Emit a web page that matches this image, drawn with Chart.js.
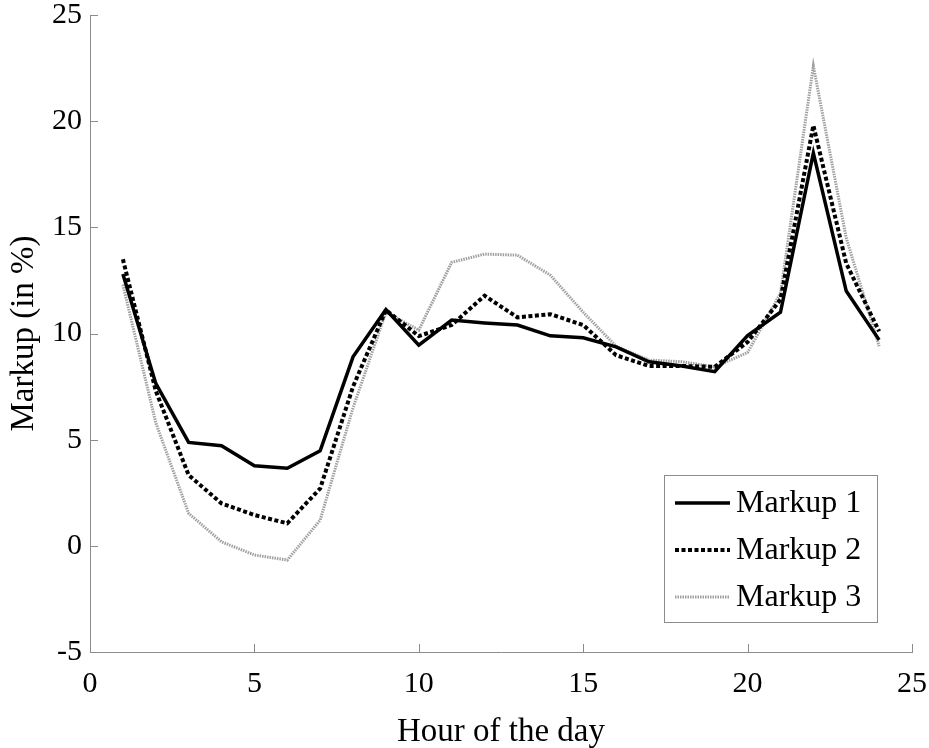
<!DOCTYPE html>
<html>
<head>
<meta charset="utf-8">
<script src="https://cdn.jsdelivr.net/npm/chart.js@4.4.1/dist/chart.umd.min.js"></script>
<style>
  html, body { margin: 0; padding: 0; background: #fff; }
  #wrap { width: 929px; height: 748px; }
</style>
</head>
<body>
<div id="wrap"><canvas id="chart"></canvas></div>
<script>
const hours = [1, 2, 3, 4, 5, 6, 7, 8, 9, 10, 11, 12, 13, 14, 15, 16, 17, 18, 19, 20, 21, 22, 23, 24];
const markup1 = [12.8, 7.65, 4.87, 4.71, 3.77, 3.65, 4.48, 8.9, 11.13, 9.45, 10.63, 10.5, 10.4, 9.89, 9.8, 9.37, 8.67, 8.47, 8.2, 9.9, 11.0, 18.5, 12.0, 9.7];
const markup2 = [13.5, 7.3, 3.33, 2.0, 1.45, 1.06, 2.7, 7.5, 11.1, 9.88, 10.4, 11.78, 10.76, 10.91, 10.4, 8.98, 8.47, 8.47, 8.43, 9.6, 11.6, 19.8, 13.3, 10.1];
const markup3 = [12.3, 5.8, 1.53, 0.19, -0.43, -0.67, 1.21, 6.5, 11.0, 10.16, 13.35, 13.74, 13.69, 12.75, 11.0, 9.4, 8.75, 8.67, 8.43, 9.1, 11.9, 22.6, 14.5, 9.4];
const seriesNames = ["Markup 1", "Markup 2", "Markup 3"];
const xTicks = [0, 5, 10, 15, 20, 25];
const yTicks = [-5, 0, 5, 10, 15, 20, 25];

const FONT = "'Liberation Serif', 'Times New Roman', serif";
const axisGray = "#8c8c8c";

const toPoints = (vals) => vals.map((v, i) => ({ x: hours[i], y: v }));

// ticks pointing into the plot, MATLAB style
const innerTicks = {
  id: "innerTicks",
  afterDraw(chart) {
    const { ctx, chartArea, scales } = chart;
    ctx.save();
    ctx.strokeStyle = axisGray;
    ctx.lineWidth = 1;
    xTicks.forEach((t) => {
      const px = Math.round(scales.x.getPixelForValue(t)) + 0.5;
      ctx.beginPath();
      ctx.moveTo(px, chartArea.bottom);
      ctx.lineTo(px, chartArea.bottom - 8);
      ctx.stroke();
    });
    yTicks.forEach((t) => {
      const py = Math.round(scales.y.getPixelForValue(t)) + 0.5;
      ctx.beginPath();
      ctx.moveTo(chartArea.left, py);
      ctx.lineTo(chartArea.left + 8, py);
      ctx.stroke();
    });
    ctx.restore();
  },
};

// boxed legend in the lower right of the plot
const boxLegend = {
  id: "boxLegend",
  afterDraw(chart) {
    const { ctx } = chart;
    const box = { x: 664.5, y: 475.5, w: 213, h: 147 };
    ctx.save();
    ctx.fillStyle = "#fff";
    ctx.fillRect(box.x, box.y, box.w, box.h);
    ctx.strokeStyle = axisGray;
    ctx.lineWidth = 1;
    ctx.strokeRect(box.x, box.y, box.w, box.h);
    const rows = [503, 550, 597];
    chart.data.datasets.forEach((ds, i) => {
      ctx.beginPath();
      ctx.strokeStyle = ds.borderColor;
      ctx.lineWidth = ds.borderWidth;
      ctx.setLineDash(ds.borderDash || []);
      ctx.moveTo(675, rows[i]);
      ctx.lineTo(730, rows[i]);
      ctx.stroke();
      ctx.setLineDash([]);
      ctx.fillStyle = "#000";
      ctx.font = "32px " + FONT;
      ctx.textBaseline = "middle";
      ctx.fillText(ds.label, 736, rows[i] + 1);
    });
    ctx.restore();
  },
};

const data = {
  datasets: [
    {
      label: seriesNames[0],
      data: toPoints(markup1),
      borderColor: "#000",
      borderWidth: 3.5,
      pointRadius: 0,
      order: 1,
    },
    {
      label: seriesNames[1],
      data: toPoints(markup2),
      borderColor: "#000",
      borderWidth: 4,
      borderDash: [4, 2.5],
      pointRadius: 0,
      order: 2,
    },
    {
      label: seriesNames[2],
      data: toPoints(markup3),
      borderColor: "#a0a0a0",
      borderWidth: 3,
      borderDash: [1.5, 1],
      pointRadius: 0,
      order: 3,
    },
  ],
};

const config = {
  type: "line",
  data,
  options: {
    responsive: true,
    maintainAspectRatio: false,
    animation: false,
    layout: { padding: { top: 15, right: 17, left: 0, bottom: 0 } },
    plugins: {
      legend: { display: false },
      tooltip: { enabled: false },
    },
    scales: {
      x: {
        type: "linear",
        min: 0,
        max: 25,
        afterBuildTicks: (s) => { s.ticks = xTicks.map((v) => ({ value: v })); },
        afterFit: (s) => { s.height = 96; s.paddingLeft = 0; s.paddingRight = 0; },
        grid: { display: false, drawTicks: false },
        border: { display: true, color: axisGray, width: 1 },
        ticks: { color: "#000", padding: 14, font: { family: FONT, size: 30 } },
        title: {
          display: true,
          text: "Hour of the day",
          color: "#000",
          padding: { top: 0, bottom: -4 },
          font: { family: FONT, size: 33 },
        },
      },
      y: {
        min: -5,
        max: 25,
        afterBuildTicks: (s) => { s.ticks = yTicks.map((v) => ({ value: v })); },
        afterFit: (s) => { s.width = 90; s.paddingTop = 0; s.paddingBottom = 0; },
        grid: { display: false, drawTicks: false },
        border: { display: true, color: axisGray, width: 1 },
        ticks: { color: "#000", padding: 8, font: { family: FONT, size: 30 } },
        title: {
          display: true,
          text: "Markup (in %)",
          color: "#000",
          padding: { top: 5, bottom: 0 },
          font: { family: FONT, size: 33 },
        },
      },
    },
  },
  plugins: [innerTicks, boxLegend],
};

new Chart(document.getElementById("chart"), config);
</script>
</body>
</html>
